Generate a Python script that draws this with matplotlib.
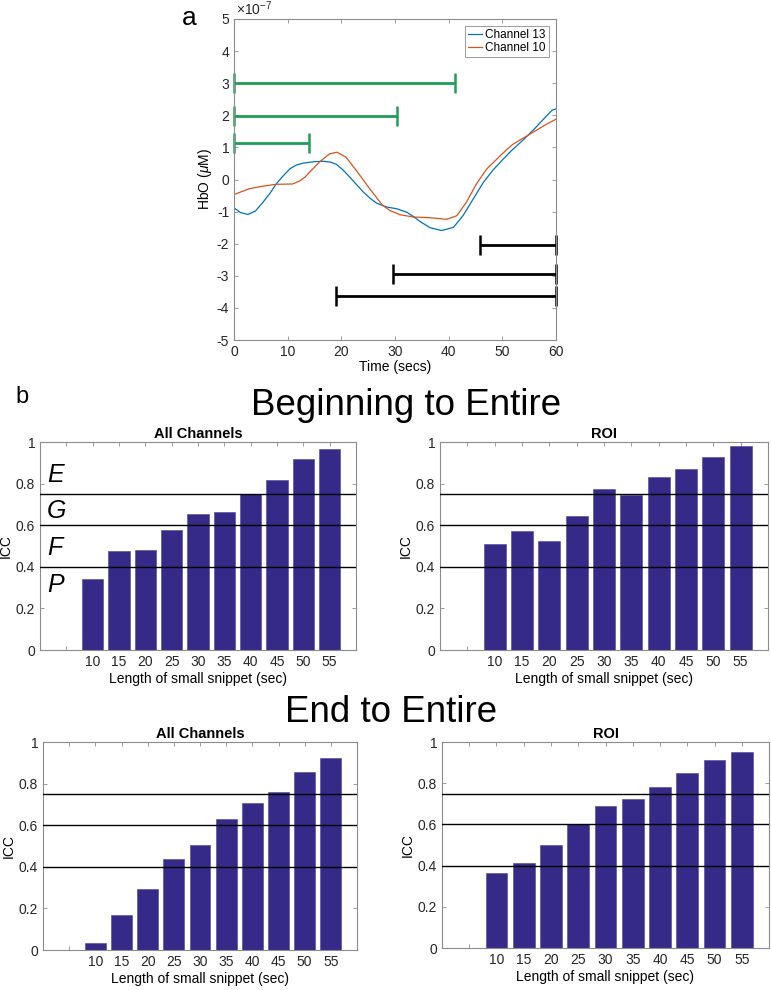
import matplotlib
matplotlib.use("Agg")
import matplotlib.pyplot as plt
import numpy as np

plt.rcParams['font.family'] = ['Liberation Sans', 'DejaVu Sans']
plt.rcParams['axes.unicode_minus'] = False
plt.rcParams['mathtext.fontset'] = 'custom'
plt.rcParams['mathtext.rm'] = 'Liberation Sans'
plt.rcParams['mathtext.it'] = 'Liberation Sans:italic'

# ---- panel a data (HbO in units of 1e-7) ----
t_ch13 = [0, 1.2, 2.6, 4, 5.4, 6.7, 7.9, 9.2, 10.4, 11.6, 12.9, 14.7, 16.6, 18, 19.1, 20.3, 21.6, 22.9,
          24.1, 25.4, 26.6, 28.5, 30.3, 32.2, 33.4, 34.6, 36.5, 38.7, 40.9, 42.7, 44.6, 46.5,
          48.3, 50.2, 51.7, 54, 56, 58, 59.3, 60]
hbo_ch13 = [-0.88, -1.03, -1.09, -0.98, -0.71, -0.43, -0.13, 0.12, 0.33, 0.45, 0.51, 0.55, 0.57, 0.54,
            0.47, 0.30, 0.07, -0.17, -0.39, -0.59, -0.74, -0.86, -0.91, -1.02, -1.15, -1.30, -1.50, -1.59,
            -1.49, -1.12, -0.60, -0.08, 0.30, 0.64, 0.90, 1.25, 1.58, 1.94, 2.16, 2.20]

t_ch10 = [0, 2.8, 5.3, 7.8, 10.9, 12.2, 13.2, 14.1, 15.9, 17.8, 19.2, 20.9, 22.8, 25.3, 27.7,
          29.1, 31.0, 33.5, 36.5, 39.6, 41.5, 43.3, 45.2, 47.1, 49.0, 50.6, 52, 54, 56, 58, 60]
hbo_ch10 = [-0.47, -0.29, -0.21, -0.15, -0.14, -0.05, 0.07, 0.23, 0.54, 0.80, 0.85, 0.69, 0.28, -0.29,
            -0.81, -0.97, -1.10, -1.17, -1.19, -1.24, -1.13, -0.71, -0.13, 0.33, 0.64, 0.90, 1.10,
            1.30, 1.50, 1.70, 1.88]

# snippet windows: beginning (green) and end (black)
beg_start = [0, 0, 0]
beg_end = [41.2, 30.4, 14.0]
beg_y = [3.0, 1.97, 1.13]
end_start = [45.9, 29.7, 19.0]
end_end = [60, 60, 60]
end_y = [-2.04, -2.93, -3.63]

# ---- panel b data ----
snippet_len = [10, 15, 20, 25, 30, 35, 40, 45, 50, 55]
icc_beg_all = [0.341, 0.478, 0.482, 0.577, 0.654, 0.663, 0.748, 0.817, 0.920, 0.965]
icc_beg_roi = [0.511, 0.571, 0.526, 0.646, 0.776, 0.747, 0.830, 0.870, 0.929, 0.981]
icc_end_all = [0.034, 0.167, 0.292, 0.437, 0.506, 0.632, 0.708, 0.762, 0.856, 0.925]
icc_end_roi = [0.363, 0.414, 0.498, 0.601, 0.687, 0.722, 0.782, 0.848, 0.911, 0.953]
thresholds = [0.4, 0.6, 0.75]
grade_labels = ['E', 'G', 'F', 'P']
grade_y = [0.843, 0.667, 0.49, 0.314]

W, H = 771, 990
fig = plt.figure(figsize=(W / 100, H / 100), dpi=100, facecolor='white')

def px_axes(left, top, right, bottom):
    return fig.add_axes([left / W, 1 - bottom / H, (right - left) / W, (bottom - top) / H])

def style_axes(ax):
    for s in ax.spines.values():
        s.set_color('#8c8c8c')
        s.set_linewidth(0.8)
    ax.tick_params(direction='in', top=True, right=True, length=3, width=0.6,
                   color='#8c8c8c', labelcolor='#262626', labelsize=10)

# ---- panel a ----
ax = px_axes(234, 19, 556, 340)
style_axes(ax)
scale = 1e-7
ax.plot(t_ch13, np.array(hbo_ch13) * scale, color='#0072BD', lw=0.9, label='Channel 13')
ax.plot(t_ch10, np.array(hbo_ch10) * scale, color='#D95319', lw=0.9, label='Channel 10')
for s, e, y in zip(beg_start, beg_end, beg_y):
    ax.plot([s, e], [y * scale, y * scale], color='#1f9e55', lw=2.0, marker='|', ms=14, mew=1.8,
            solid_capstyle='butt', clip_on=False)
for s, e, y in zip(end_start, end_end, end_y):
    ax.plot([s, e], [y * scale, y * scale], color='black', lw=2.0, marker='|', ms=14, mew=1.8,
            solid_capstyle='butt', clip_on=False)
ax.set_xlim(0, 60)
ax.set_ylim(-5e-7, 5e-7)
ax.set_xticks(range(0, 61, 10))
ax.set_yticks(np.arange(-5, 6) * scale)
ax.set_yticklabels([str(v) for v in range(-5, 6)])
ax.text(0.005, 1.003, r'$\times10^{-7}$', transform=ax.transAxes, fontsize=10, color='#262626',
        va='bottom', ha='left')
ax.set_xlabel('Time (secs)', fontsize=10, labelpad=1)
ax.set_ylabel(r'HbO ($\mu$M)', fontsize=10, labelpad=2)
leg = ax.legend(loc='upper right', fontsize=8.5, frameon=True, fancybox=False, framealpha=1,
                edgecolor='#8c8c8c', handlelength=1.2, handletextpad=0.3, borderpad=0.25,
                labelspacing=0.1, borderaxespad=0.6)
leg.get_frame().set_linewidth(0.6)

fig.text(197 / W, 1 - 25 / H, 'a', fontsize=19, ha='right', va='baseline')
fig.text(15 / W, 1 - 403 / H, 'b', fontsize=17, ha='left', va='baseline')
fig.text(406 / W, 1 - 415 / H, 'Beginning to Entire', fontsize=26.5, ha='center', va='baseline')
fig.text(391 / W, 1 - 722 / H, 'End to Entire', fontsize=26.5, ha='center', va='baseline')

# ---- panel b ----
bar_color = '#352A87'
panels = [
    ((40, 442, 356, 650), icc_beg_all, 'All Channels', True),
    ((440, 442, 768, 650), icc_beg_roi, 'ROI', False),
    ((43, 742, 357, 950), icc_end_all, 'All Channels', False),
    ((442, 742, 769, 948), icc_end_roi, 'ROI', False),
]
for box, vals, title, grades in panels:
    ax = px_axes(*box)
    style_axes(ax)
    ax.bar(snippet_len, vals, width=4, color=bar_color, edgecolor='#4a4296', linewidth=0.4, zorder=2)
    for th in thresholds:
        ax.axhline(th, color='black', lw=1.0, zorder=3)
    ax.set_xlim(0, 60)
    ax.set_ylim(0, 1)
    ax.set_xticks([5] + snippet_len)
    ax.set_xticklabels([''] + [str(v) for v in snippet_len])
    ax.set_yticks([0, 0.2, 0.4, 0.6, 0.8, 1])
    ax.set_yticklabels(['0', '0.2', '0.4', '0.6', '0.8', '1'])
    ax.set_title(title, fontsize=10.5, fontweight='bold', pad=3)
    ax.set_xlabel('Length of small snippet (sec)', fontsize=10, labelpad=2)
    ax.set_ylabel('ICC', fontsize=10, labelpad=2)
    if grades:
        for lab, gy in zip(grade_labels, grade_y):
            ax.text(1.3, gy, lab, fontsize=18, style='italic', va='center', ha='left', zorder=4)

fig.savefig('out.png', dpi=100, facecolor='white')
